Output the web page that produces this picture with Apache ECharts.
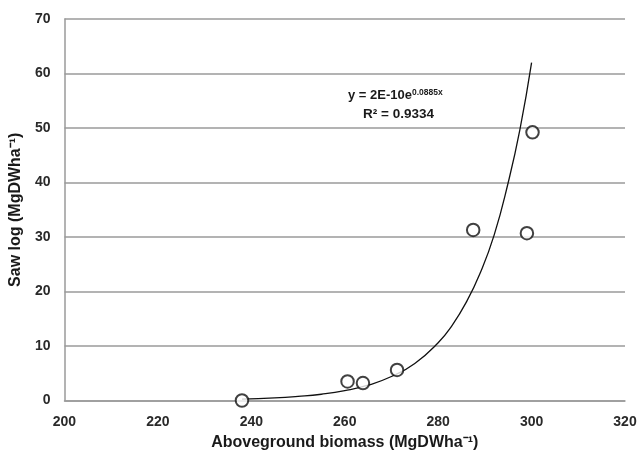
<!DOCTYPE html>
<html>
<head>
<meta charset="utf-8">
<script src="https://cdn.jsdelivr.net/npm/echarts@6/dist/echarts.min.js"></script>
<style>html,body{margin:0;padding:0;background:#fff}#c{width:640px;height:456px}</style>
</head>
<body>
<div id="c"></div>
<script>
// Observed points (Aboveground biomass, Saw log)
var biomass = [238.0, 260.6, 263.9, 271.2, 287.5, 299.0, 300.2];
var sawLog  = [0.0, 3.5, 3.2, 5.6, 31.3, 30.7, 49.2];
// Trendline
var trendX = [238, 245, 250, 255, 260, 265, 270, 275, 280, 283, 286, 289, 292, 295, 297.5, 300];
var trendY = [0.25, 0.47, 0.75, 1.15, 1.8, 2.8, 4.4, 6.8, 10.6, 13.8, 18.0, 23.4, 30.4, 40.0, 49.7, 62.0];
// Axis settings
var xMin = 200, xMax = 320, xStep = 20;
var yMin = 0, yMax = 70, yStep = 10;
var xTitle = 'Aboveground biomass (MgDWha\u207B\u00B9)';
var yTitle = 'Saw log (MgDWha\u207B\u00B9)';
var eqBase = 'y = 2E-10e', eqExp = '0.0885x', r2Text = 'R\u00B2 = 0.9334';

var pts = biomass.map(function (x, i) { return [x, sawLog[i]]; });
var trend = trendX.map(function (x, i) { return [x, trendY[i]]; });
var font = '"Liberation Sans", Arial, sans-serif';
var chart = echarts.init(document.getElementById('c'), null, {renderer: 'canvas'});
chart.setOption({
  animation: false,
  backgroundColor: '#fff',
  grid: {left: 64, right: 15, top: 19, bottom: 55.5},
  xAxis: {
    type: 'value', min: xMin, max: xMax, interval: xStep,
    name: xTitle, nameLocation: 'middle', nameGap: 26,
    nameTextStyle: {fontFamily: font, fontWeight: 'bold', fontSize: 16, color: '#1a1a1a'},
    axisLine: {show: true, lineStyle: {color: '#9a9a9a', width: 1.5}},
    axisTick: {show: false},
    splitLine: {show: false},
    axisLabel: {fontFamily: font, fontWeight: 'bold', fontSize: 14, color: '#2a2a2a', margin: 15}
  },
  yAxis: {
    type: 'value', min: yMin, max: yMax, interval: yStep,
    name: yTitle, nameLocation: 'middle', nameGap: 35, nameRotate: 90,
    nameTextStyle: {fontFamily: font, fontWeight: 'bold', fontSize: 16, color: '#1a1a1a'},
    axisLine: {show: true, lineStyle: {color: '#9a9a9a', width: 1.5}},
    axisTick: {show: false},
    splitLine: {show: true, lineStyle: {color: '#9a9a9a', width: 1.5}},
    axisLabel: {fontFamily: font, fontWeight: 'bold', fontSize: 14, color: '#2a2a2a', margin: 14}
  },
  graphic: [
    {type: 'text', left: 348, top: 88, style: {
      text: '{b|' + eqBase + '}{s|' + eqExp + '}',
      rich: {
        b: {fontFamily: font, fontWeight: 'bold', fontSize: 13, fill: '#1a1a1a', lineHeight: 14},
        s: {fontFamily: font, fontWeight: 'bold', fontSize: 8.5, fill: '#1a1a1a', verticalAlign: 'top', padding: [0, 0, 6, 0]}
      }}},
    {type: 'text', left: 363, top: 107, style: {
      text: r2Text, fontFamily: font, fontWeight: 'bold', fontSize: 13.5, fill: '#1a1a1a'}}
  ],
  series: [
    {type: 'line', data: trend, smooth: true, showSymbol: false, symbol: 'none',
     lineStyle: {color: '#111', width: 1.3}, z: 2},
    {type: 'scatter', data: pts, symbol: 'circle', symbolSize: 12.5,
     itemStyle: {color: '#fff', borderColor: '#111', borderWidth: 2}, z: 3}
  ]
});
</script>
</body>
</html>
